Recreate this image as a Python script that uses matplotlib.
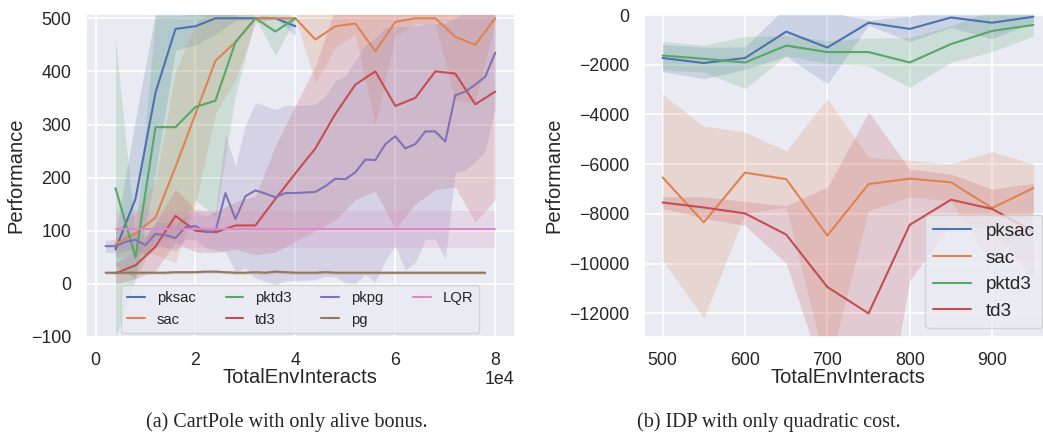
import numpy as np
import matplotlib
matplotlib.use("Agg")
import matplotlib.pyplot as plt
import matplotlib.transforms as mtransforms
import seaborn as sns

# ---- CartPole (left) ----
steps_4k = list(range(4000, 80001, 4000))
steps_2k = list(range(2000, 80001, 2000))
pg_steps = list(range(2000, 78001, 2000))
lqr_steps = [4000, 80000]

pksac_mean = [65, 160, 360, 480, 485, 500, 500, 500, 500, 485]
pksac_sd = [30, 150, 150, 40, 35, 30, 5, 0, 0, 18]
sac_mean = [75, 95, 125, 220, 320, 420, 455, 500, 500, 500,
            460, 485, 490, 438, 493, 500, 500, 465, 450, 500]
sac_sd = [25, 40, 70, 180, 170, 100, 70, 10, 0, 0,
          82, 40, 20, 138, 25, 10, 10, 120, 110, 5]
pktd3_mean = [180, 50, 295, 295, 333, 345, 455, 500, 475, 500]
pktd3_sd = [280, 40, 210, 210, 175, 220, 100, 0, 45, 0]
td3_mean = [20, 35, 70, 128, 100, 97, 110, 110, 160, 208,
            255, 320, 375, 400, 335, 350, 400, 396, 338, 362]
td3_sd = [20, 25, 45, 50, 40, 38, 45, 55, 100, 128,
          155, 200, 216, 225, 232, 200, 222, 214, 222, 203]
pkpg_mean = [71, 71, 79, 83, 73, 94, 92, 86, 107, 109,
             98, 99, 171, 122, 165, 176, 170, 163, 171, 171,
             172, 173, 184, 198, 197, 210, 234, 233, 263, 278,
             255, 263, 287, 287, 268, 355, 362, 375, 390, 435]
pkpg_sd = [11, 13, 16, 17, 17, 21, 23, 24, 23, 26,
           30, 36, 110, 100, 135, 165, 165, 165, 165, 165,
           165, 165, 170, 185, 195, 210, 216, 230, 219, 207,
           229, 223, 203, 203, 222, 145, 148, 145, 140, 105]
pg_mean = [21, 21, 21, 21, 21, 21, 21, 22, 22, 22,
           23, 23, 22, 21, 21, 22, 21, 23, 22, 21,
           21, 21, 22, 21, 21, 21, 21, 21, 21, 21,
           21, 21, 21, 21, 21, 21, 21, 21, 21]
pg_sd = [3] * 39
lqr_mean = [103, 103]
lqr_sd = [35, 35]

# ---- IDP (right) ----
idp_steps = [500, 550, 600, 650, 700, 750, 800, 850, 900, 950]
idp_pksac_mean = [-1730, -1930, -1730, -670, -1310, -310, -560, -100, -310, -70]
idp_pksac_sd = [540, 630, 450, 1000, 1460, 100, 510, 400, 640, 230]
idp_sac_mean = [-6530, -8340, -6340, -6600, -8870, -6800, -6580, -6730, -7760, -6960]
idp_sac_sd = [3330, 3870, 1640, 1130, 5510, 1070, 740, 750, 2270, 960]
idp_pktd3_mean = [-1630, -1760, -1910, -1230, -1490, -1490, -1910, -1170, -640, -400]
idp_pktd3_sd = [570, 540, 1050, 400, 460, 560, 1000, 730, 830, 450]
idp_td3_mean = [-7540, -7740, -7980, -8830, -10940, -12000, -8440, -7430, -7800, -8700]
idp_td3_sd = [230, 430, 480, 1160, 4010, 8100, 2240, 1030, 800, 1930]

sns.set_theme(style="darkgrid")
plt.rcParams['font.family'] = ['Liberation Sans', 'DejaVu Sans']
plt.rcParams['grid.linewidth'] = 1.2
pal = sns.color_palette("deep")
colors = {'pksac': pal[0], 'sac': pal[1], 'pktd3': pal[2], 'td3': pal[3],
          'pkpg': pal[4], 'pg': pal[5], 'LQR': pal[6]}


def curve(ax, x, mean, sd, name):
    mean = np.asarray(mean, dtype=float)
    sd = np.asarray(sd, dtype=float)
    ax.fill_between(x, mean - sd, mean + sd, color=colors[name], alpha=0.2, lw=0)
    ax.plot(x, mean, color=colors[name], lw=1.5, label=name)


fig = plt.figure(figsize=(10.43, 4.38), dpi=100)

ax1 = fig.add_axes([0.0825, 0.2306, 0.411, 0.7374])
curve(ax1, steps_4k[:10], pksac_mean, pksac_sd, 'pksac')
curve(ax1, steps_4k, sac_mean, sac_sd, 'sac')
curve(ax1, steps_4k[:10], pktd3_mean, pktd3_sd, 'pktd3')
curve(ax1, steps_4k, td3_mean, td3_sd, 'td3')
curve(ax1, steps_2k, pkpg_mean, pkpg_sd, 'pkpg')
curve(ax1, pg_steps, pg_mean, pg_sd, 'pg')
curve(ax1, lqr_steps, lqr_mean, lqr_sd, 'LQR')
ax1.set_ylim(-100, 508)
ax1.set_yticks([-100, 0, 100, 200, 300, 400, 500])
ax1.set_xticks([0, 20000, 40000, 60000, 80000])
ax1.ticklabel_format(style='sci', axis='x', scilimits=(0, 0))
ax1.set_xlabel('TotalEnvInteracts', fontsize=14.5, labelpad=-1)
ax1.set_ylabel('Performance', fontsize=14.5)
ax1.tick_params(axis='y', labelsize=12.8, pad=4.5)
ax1.tick_params(axis='x', labelsize=12.8, pad=5)
# lift the "1e4" offset a little towards the tick labels
offset = ax1.xaxis.get_offset_text()
offset.set_fontsize(12.8)
offset.set_transform(
    mtransforms.blended_transform_factory(ax1.transAxes, mtransforms.IdentityTransform())
    + mtransforms.ScaledTranslation(0, 2 / 72, fig.dpi_scale_trans))
ax1.legend(loc='lower center', ncol=4, handlelength=1.2, fontsize=10.7,
           borderaxespad=0.3)

ax2 = fig.add_axes([0.6175, 0.2306, 0.391, 0.7374])
curve(ax2, idp_steps, idp_pksac_mean, idp_pksac_sd, 'pksac')
curve(ax2, idp_steps, idp_sac_mean, idp_sac_sd, 'sac')
curve(ax2, idp_steps, idp_pktd3_mean, idp_pktd3_sd, 'pktd3')
curve(ax2, idp_steps, idp_td3_mean, idp_td3_sd, 'td3')
ax2.set_ylim(-12950, 40)
ax2.set_yticks([-12000, -10000, -8000, -6000, -4000, -2000, 0])
ax2.set_xlabel('TotalEnvInteracts', fontsize=14.5, labelpad=-1)
ax2.set_ylabel('Performance', fontsize=14.5)
ax2.tick_params(axis='y', labelsize=12.8, pad=4.5)
ax2.tick_params(axis='x', labelsize=12.8, pad=5)
ax2.legend(loc='lower right', fontsize=13.6)

fig.text(0.275, 0.024, '(a) CartPole with only alive bonus.', ha='center',
         va='baseline', family='Liberation Serif', fontsize=14.5)
fig.text(0.737, 0.024, '(b) IDP with only quadratic cost.', ha='center',
         va='baseline', family='Liberation Serif', fontsize=14.5)

fig.savefig('out.png', dpi=100)
